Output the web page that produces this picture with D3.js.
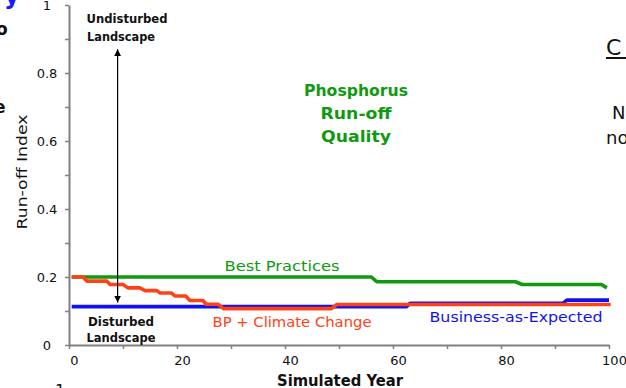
<!DOCTYPE html>
<html>
<head>
<meta charset="utf-8">
<script src="https://cdn.jsdelivr.net/npm/d3@7"></script>
<style>
  html, body { margin: 0; padding: 0; background: #fff; overflow: hidden; }
  svg { display: block; }
  text { font-family: "Comic Sans MS", "DejaVu Sans", sans-serif; }
</style>
</head>
<body>
<svg id="chart" width="626" height="388"></svg>
<script>
// Run-off index per simulated year, one array of [year, index] per scenario
const bestPractices = [
  [0.5, 0.2], [56, 0.2], [57, 0.186], [82.7, 0.186], [83.9, 0.178],
  [98.6, 0.178], [99.6, 0.168]
];
const businessAsExpected = [
  [0.5, 0.113], [62.5, 0.113], [63.2, 0.123], [91.5, 0.123],
  [92.2, 0.132], [100, 0.132]
];
const bpClimateChange = [
  [0.5, 0.2], [2.6, 0.2], [3.3, 0.188], [7.0, 0.188], [7.6, 0.178],
  [10, 0.178], [10.9, 0.168], [13.1, 0.168], [14.1, 0.16], [16.2, 0.16],
  [16.9, 0.153], [19, 0.153], [19.6, 0.144], [21.6, 0.144], [22.4, 0.131],
  [24.8, 0.131], [25.4, 0.12], [27.6, 0.12], [28.6, 0.107], [48.6, 0.107],
  [49.6, 0.119], [100.3, 0.119]
];
const xTicks = [0, 10, 20, 30, 40, 50, 60, 70, 80, 90, 100];
const xTickLabels = ["0", "", "20", "", "40", "", "60", "", "80", "", "100"];
const yTicks = [0, 0.1, 0.2, 0.3, 0.4, 0.5, 0.6, 0.7, 0.8, 0.9, 1];
const yTickLabels = ["0", "", "0.2", "", "0.4", "", "0.6", "", "0.8", "", "1"];
const undisturbedLevel = 0.87;   // arrow end near "Undisturbed Landscape"
const disturbedLevel = 0.125;    // arrow end near "Disturbed Landscape"
const arrowYear = 9;

const svg = d3.select("#chart");
const x = d3.scaleLinear().domain([0, 100]).range([69, 609]);
const y = d3.scaleLinear().domain([0, 1]).range([345, 5]);

const GREEN = "#0f9a0f", BLUE = "#1212f0", RED = "#ff4215";
const AXIS = "#808080";

// stray slide text around the chart
svg.append("text").attr("x", 4).attr("y", 4).attr("font-size", 24)
  .attr("font-weight", "bold").attr("fill", "#1a1aff").text("y");
svg.append("text").attr("x", -4).attr("y", 35).attr("font-size", 17)
  .attr("font-weight", "bold").attr("fill", "#111").text("o");
svg.append("text").attr("x", -6).attr("y", 113).attr("font-size", 17)
  .attr("font-weight", "bold").attr("fill", "#111").text("e");
svg.append("text").attr("x", 606).attr("y", 55).attr("font-size", 22)
  .attr("fill", "#111").attr("font-family", "Liberation Sans, sans-serif").text("C");
svg.append("rect").attr("x", 606).attr("y", 57).attr("width", 20).attr("height", 2).attr("fill", "#111");
svg.append("text").attr("x", 612).attr("y", 119).attr("font-size", 18)
  .attr("fill", "#111").attr("font-family", "Liberation Sans, sans-serif").text("N");
svg.append("text").attr("x", 606).attr("y", 144).attr("font-size", 18)
  .attr("fill", "#111").attr("font-family", "Liberation Sans, sans-serif").text("no");
svg.append("text").attr("x", 55).attr("y", 396).attr("font-size", 16)
  .attr("fill", "#111").text("1");

// axes
const xAxis = d3.axisBottom(x).tickValues(xTicks).tickSize(4).tickSizeOuter(0)
  .tickFormat((d, i) => xTickLabels[i]);
const gx = svg.append("g").attr("transform", `translate(0,${y(0)})`).call(xAxis);
gx.select(".domain").attr("stroke", AXIS).attr("stroke-width", 2);
gx.selectAll(".tick line").attr("stroke", AXIS).attr("stroke-width", 1.5);
gx.selectAll(".tick text").attr("fill", "#111").attr("font-size", 13)
  .attr("font-family", "\"Comic Sans MS\", \"DejaVu Sans\", sans-serif")
  .attr("dx", 5).attr("y", 11);

const yAxis = d3.axisLeft(y).tickValues(yTicks).tickSize(4).tickSizeOuter(0)
  .tickFormat((d, i) => yTickLabels[i]);
const gy = svg.append("g").attr("transform", `translate(${x(0)},0)`).call(yAxis);
gy.select(".domain").attr("stroke", AXIS).attr("stroke-width", 2);
gy.selectAll(".tick line").attr("stroke", AXIS).attr("stroke-width", 1.5);
gy.selectAll(".tick text").attr("fill", "#111").attr("font-size", 13)
  .attr("font-family", "\"Comic Sans MS\", \"DejaVu Sans\", sans-serif")
  .attr("text-anchor", "middle").attr("x", -22);

// axis titles
svg.append("text").attr("x", 340).attr("y", 386).attr("text-anchor", "middle")
  .attr("font-size", 15).attr("font-weight", "bold").attr("fill", "#111")
  .attr("textLength", 126).attr("lengthAdjust", "spacingAndGlyphs").text("Simulated Year");
svg.append("text").attr("transform", "translate(27,172) rotate(-90)")
  .attr("text-anchor", "middle").attr("font-size", 14).attr("fill", "#111")
  .attr("textLength", 115).attr("lengthAdjust", "spacingAndGlyphs").text("Run-off Index");

// scenario lines
const line = d3.line().x(d => x(d[0])).y(d => y(d[1]));
[[bestPractices, GREEN], [businessAsExpected, BLUE], [bpClimateChange, RED]]
  .forEach(([data, color]) => {
    svg.append("path").datum(data).attr("d", line).attr("fill", "none")
      .attr("stroke", color).attr("stroke-width", 3.6)
      .attr("stroke-linejoin", "round");
  });

// double-headed arrow between the landscape states
const defs = svg.append("defs");
defs.append("marker").attr("id", "head").attr("viewBox", "0 0 10 10")
  .attr("refX", 10).attr("refY", 5).attr("markerWidth", 7).attr("markerHeight", 11)
  .attr("markerUnits", "userSpaceOnUse").attr("orient", "auto-start-reverse")
  .append("path").attr("d", "M0,0 L10,5 L0,10 Z").attr("fill", "#000");
svg.append("line")
  .attr("x1", x(arrowYear)).attr("x2", x(arrowYear))
  .attr("y1", y(undisturbedLevel)).attr("y2", y(disturbedLevel))
  .attr("stroke", "#000").attr("stroke-width", 1.2)
  .attr("marker-start", "url(#head)").attr("marker-end", "url(#head)");

// annotation labels
function label(tx, ty, str, size, color, weight, len) {
  const t = svg.append("text").attr("x", tx).attr("y", ty).attr("text-anchor", "middle")
    .attr("font-size", size).attr("fill", color).attr("font-weight", weight).text(str);
  if (len) t.attr("textLength", len).attr("lengthAdjust", "spacingAndGlyphs");
  return t;
}
label(127, 23, "Undisturbed", 12.5, "#111", "bold", 81);
label(121, 41, "Landscape", 12.5, "#111", "bold", 68);
label(121, 326, "Disturbed", 12.5, "#111", "bold", 66);
label(121, 342, "Landscape", 12.5, "#111", "bold", 69);

label(356, 96, "Phosphorus", 16.5, GREEN, "bold", 104);
label(356, 119, "Run-off", 16.5, GREEN, "bold", 71);
label(356, 142, "Quality", 16.5, GREEN, "bold", 70);

label(282, 271, "Best Practices", 14.5, GREEN, "normal", 115);
label(292, 327, "BP + Climate Change", 14.5, RED, "normal", 159);
label(516, 322, "Business-as-Expected", 14.5, BLUE, "normal", 173);
</script>
</body>
</html>
